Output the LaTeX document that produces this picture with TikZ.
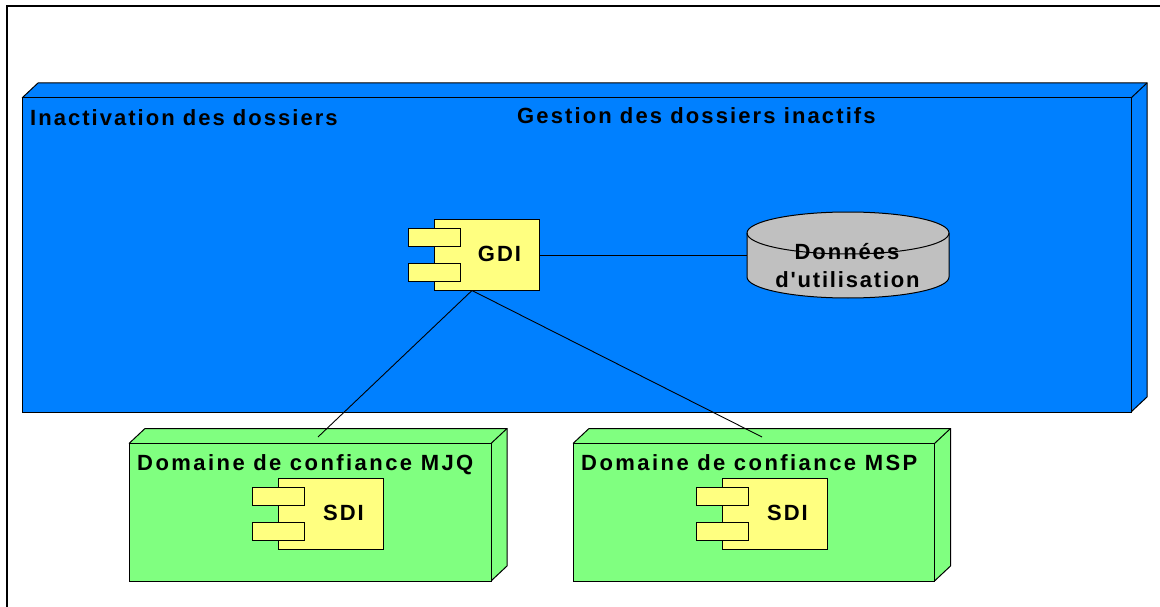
\documentclass[tikz,border=0pt]{standalone}
\usepackage{fontspec}
\setmainfont{Liberation Sans}[LetterSpace=9,Ligatures={TeXOff,NoCommon}]
\usetikzlibrary{calc}
\definecolor{nodeblue}{HTML}{0080FF}
\definecolor{nodegreen}{HTML}{80FF80}
\definecolor{compyellow}{HTML}{FFFF80}
\definecolor{dbgray}{HTML}{C0C0C0}
\tikzset{
  edge/.style={draw=black,line width=0.9pt,line join=miter},
  frameline/.style={draw=black,line width=2pt},
  body/.style={draw=black,line width=1pt,fill=compyellow,rectangle,inner sep=0pt,outer sep=0pt},
  tab/.style={body,minimum width=52pt,minimum height=18pt},
  face/.style={draw=black,line width=1pt,line join=miter},
  lab/.style={font=\fontsize{22}{26}\selectfont\bfseries,anchor=base west,inner sep=0pt,text=black},
  clab/.style={font=\fontsize{22}{26}\selectfont\bfseries,anchor=base,inner sep=0pt,text=black},
}
\newcommand{\lsp}[1]{\addfontfeature{LetterSpace=#1}}
\newcommand{\cube}[6]{% name, x0, y0, x1, y1, colour
  \fill[#6] (#2,#3) -- (#2+16,#3-15) -- (#4+16,#3-15) -- (#4+16,#5-15) -- (#4,#5) -- (#2,#5) -- cycle;
  \draw[face] (#2,#3) -- (#2+16,#3-15) -- (#4+16,#3-15) -- (#4+16,#5-15) -- (#4,#5);
  \draw[face] (#4,#3) -- (#4+16,#3-15);
  \node[rectangle,draw=black,line width=1pt,fill=#6,inner sep=0pt,outer sep=0pt,anchor=north west,minimum width=#4pt-#2pt,minimum height=#5pt-#3pt] (#1) at (#2,#3) {};
}
\newcommand{\comp}[4]{% name, x, y, label
  \node[body,anchor=north west,minimum width=105pt,minimum height=71pt] (#1) at (#2,#3) {};
  \node[tab,anchor=north west] (#1t) at (#2-26,#3+8.5) {};
  \node[tab,anchor=north west] (#1b) at (#2-26,#3+44) {};
  \node[clab] (#1l) at (#2+65.5,#3+42) {#4};
}
\begin{document}
\begin{tikzpicture}[x=1pt,y=-1pt]
\useasboundingbox (0,0) rectangle (1160,607);
\fill[white] (0,0) rectangle (1160,607);
\coordinate (fa) at (7,607);
\coordinate (fb) at (7,6);
\coordinate (fc) at (1160,6);
\draw[frameline] (fa) -- (fb) -- (fc);

\cube{gestion}{22}{98}{1131}{412}{nodeblue}
\cube{mjq}{129}{443.5}{491}{581}{nodegreen}
\cube{msp}{573}{443.5}{934.5}{581}{nodegreen}

\node[lab] (t1) at (30,126) {\lsp{9.2}Inactivation des dossiers};
\node[lab] (t2) at (517,124) {\lsp{9.6}Gestion des dossiers inactifs};
\node[lab] (t3) at (137,470.5) {\lsp{11.1}Domaine de confiance MJQ};
\node[lab] (t4) at (581,470.5) {\lsp{11.1}Domaine de confiance MSP};

% database
\path[face,fill=dbgray] (747,233) -- (747,277) arc[start angle=180,end angle=0,x radius=101,y radius=21] -- (949,233) arc[start angle=0,end angle=-180,x radius=101,y radius=21] -- cycle;
\draw[face] (747,233) arc[start angle=180,end angle=0,x radius=101,y radius=21];
\node[rectangle,inner sep=0pt,outer sep=0pt,minimum width=202pt,minimum height=86pt] (db) at (848,255) {};
\node[clab] (db1) at (847,259.3) {Données};
\node[clab] (db2) at (847.5,287.3) {\lsp{8.2}d'utilisation};

\comp{gdi}{434}{219.5}{GDI}
\comp{sdia}{278}{478.5}{SDI}
\comp{sdib}{722}{478.5}{SDI}

\coordinate (gdifoot) at (472,290.5);
\coordinate (mjqend) at (318,437);
\coordinate (mspend) at (762,437);
\draw[edge] (gdi.east) -- (db.west);
\draw[edge] (gdifoot) -- (mjqend);
\draw[edge] (gdifoot) -- (mspend);
\end{tikzpicture}
\end{document}
